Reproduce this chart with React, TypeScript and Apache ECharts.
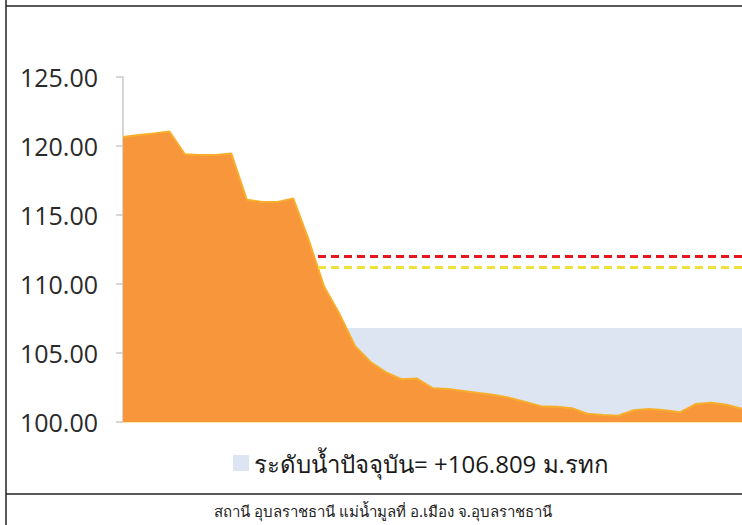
import React, { useEffect, useRef } from "react";
import * as echarts from "echarts";

// Water level readings (m. MSL), evenly spaced samples
const waterLevel = [
  120.65, 120.8, 120.9, 121.05, 119.4, 119.35, 119.35, 119.45, 116.1, 115.95,
  115.95, 116.2, 113.2, 109.8, 107.8, 105.5, 104.35, 103.6, 103.1, 103.15,
  102.45, 102.4, 102.25, 102.1, 101.95, 101.75, 101.45, 101.15, 101.1, 101.0,
  100.6, 100.5, 100.45, 100.85, 100.95, 100.85, 100.7, 101.3, 101.4, 101.25,
  100.95,
];
const currentLevel = 106.809;
const currentLabel = "ระดับน้ำปัจจุบัน= +106.809 ม.รทก";
const redLevel = 112.0;
const yellowLevel = 111.2;
const refLineStart = 12.6; // sample position where reference lines begin
const yTicks = { min: 100, max: 125, interval: 5 };
const caption = "สถานี อุบลราชธานี แม่น้ำมูลที่ อ.เมือง จ.อุบลราชธานี";

export default function App() {
  const ref = useRef<HTMLDivElement>(null);
  useEffect(() => {
    if (!ref.current) return;
    const chart = echarts.init(ref.current, null, { renderer: "svg" });
    const lastIdx = waterLevel.length - 1;
    const font = "'Open Sans', 'Noto Sans', sans-serif";
    chart.setOption({
      animation: false,
      backgroundColor: "#ffffff",
      grid: { left: 123, top: 77, bottom: 103, right: -7 },
      xAxis: {
        type: "value",
        min: 0,
        max: lastIdx,
        axisLine: { show: true, lineStyle: { color: "#fbe7a6", width: 2 } },
        axisTick: { show: false },
        axisLabel: { show: false },
        splitLine: { show: false },
      },
      yAxis: {
        type: "value",
        min: yTicks.min,
        max: yTicks.max,
        interval: yTicks.interval,
        axisLine: { show: true, lineStyle: { color: "#c8c8c8", width: 1.5 } },
        axisTick: { show: true, length: 7, lineStyle: { color: "#c8c8c8", width: 1.5 } },
        splitLine: { show: false },
        axisLabel: {
          margin: 25,
          fontSize: 25,
          color: "#2a2a2a",
          fontFamily: font,
          formatter: (v: number) => v.toFixed(2),
        },
      },
      legend: {
        data: [currentLabel],
        left: 228,
        top: 446,
        icon: "rect",
        itemWidth: 16,
        itemHeight: 16,
        itemGap: 8,
        textStyle: { fontSize: 24, color: "#1a1a1a", fontFamily: font },
      },
      series: [
        {
          name: currentLabel,
          type: "line",
          data: [
            [0, currentLevel],
            [lastIdx, currentLevel],
          ],
          showSymbol: false,
          lineStyle: { width: 0, color: "#dce5f1" },
          itemStyle: { color: "#dce5f1" },
          areaStyle: { color: "#dce5f1", opacity: 1, origin: "start" },
          z: 1,
        },
        {
          name: "level",
          type: "line",
          data: waterLevel.map((v, i) => [i, v]),
          showSymbol: false,
          lineStyle: { width: 2, color: "#f8ae2c" },
          itemStyle: { color: "#f7963a" },
          areaStyle: { color: "#f7963a", opacity: 1, origin: "start" },
          z: 2,
        },
        {
          name: "red",
          type: "line",
          data: [
            [refLineStart, redLevel],
            [lastIdx, redLevel],
          ],
          showSymbol: false,
          lineStyle: { width: 3, color: "#e5161c", type: [8, 5] },
          z: 3,
        },
        {
          name: "yellow",
          type: "line",
          data: [
            [refLineStart, yellowLevel],
            [lastIdx, yellowLevel],
          ],
          showSymbol: false,
          lineStyle: { width: 3, color: "#eee23a", type: [8, 5] },
          z: 3,
        },
      ],
      graphic: [
        { type: "line", shape: { x1: 6, y1: 0, x2: 6, y2: 525 }, style: { stroke: "#222", lineWidth: 1.5 }, z: 10 },
        { type: "line", shape: { x1: 6, y1: 6, x2: 742, y2: 6 }, style: { stroke: "#222", lineWidth: 1.5 }, z: 10 },
        { type: "line", shape: { x1: 6, y1: 494, x2: 742, y2: 494 }, style: { stroke: "#222", lineWidth: 1.5 }, z: 10 },
        {
          type: "text",
          x: 383,
          y: 511,
          style: {
            text: caption,
            fontSize: 15,
            fill: "#222",
            fontFamily: "'Noto Sans', sans-serif",
            textAlign: "center",
            textVerticalAlign: "middle",
          },
          z: 10,
        },
      ],
    });
    return () => chart.dispose();
  }, []);
  return (
    <div
      ref={ref}
      style={{ position: "absolute", left: 0, top: 0, width: 742, height: 525 }}
    />
  );
}
